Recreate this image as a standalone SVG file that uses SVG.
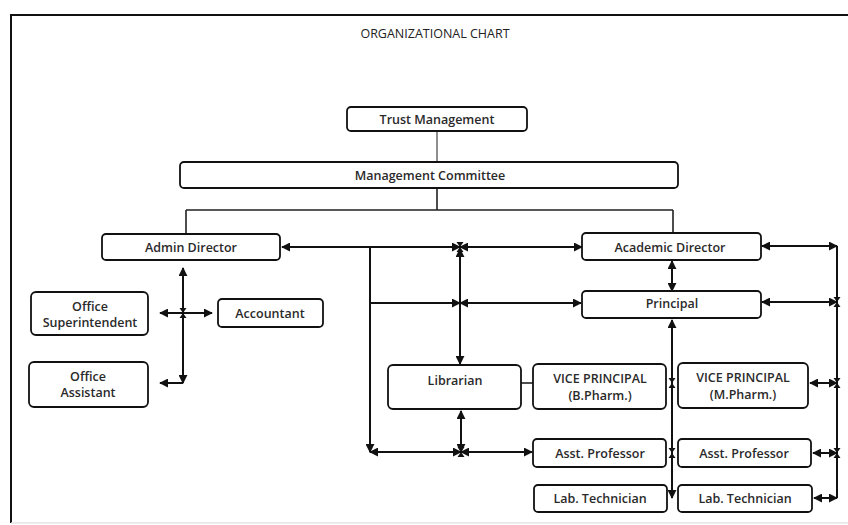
<svg xmlns="http://www.w3.org/2000/svg" width="848" height="525" viewBox="0 0 848 525">
<style>
.box{fill:#fff;stroke:#111;stroke-width:1.8}
.t{font-family:"Open Sans","Liberation Sans",sans-serif;font-size:12.5px;font-weight:600;fill:#2a2a2a;text-anchor:middle;dominant-baseline:central}
.c{fill:none;stroke:#111;stroke-width:2}
.thin{fill:none;stroke:#444;stroke-width:1.2}
.med{fill:none;stroke:#222;stroke-width:1.6}
.bt{fill:#111}
</style>
<defs>
<marker id="a" viewBox="0 0 10 10" refX="9" refY="5" markerWidth="4.5" markerHeight="4.5" orient="auto-start-reverse" markerUnits="strokeWidth">
<path d="M0,0 L10,5 L0,10 z" fill="#111"/>
</marker>
<g id="bow"><path d="M-3.5,-5 L3.5,-5 L0,0 z M-3.5,5 L3.5,5 L0,0 z"/></g>
</defs>
<rect width="848" height="525" fill="#fff"/>
<path d="M11,523 V15 H848" fill="none" stroke="#111" stroke-width="2"/>
<path d="M11,523 H848" fill="none" stroke="#e4e4e4" stroke-width="1.5"/>
<text x="435" y="33" class="t" style="font-weight:400;font-size:12.5px;fill:#222">ORGANIZATIONAL CHART</text>

<g id="connectors">
<path class="thin" d="M437,131 V162"/>
<path class="med" d="M437,188 V210 M186,210 H673 M186,210 V234 M673,210 V234"/>
<line class="c" x1="282" y1="247" x2="460" y2="247" marker-start="url(#a)" marker-end="url(#a)"/>
<line class="c" x1="460" y1="247" x2="582" y2="247" marker-start="url(#a)" marker-end="url(#a)"/>
<path class="c" d="M370,247 V452" marker-end="url(#a)"/>
<line class="c" x1="370" y1="452" x2="461" y2="452" marker-start="url(#a)" marker-end="url(#a)"/>
<line class="c" x1="461" y1="452" x2="532" y2="452" marker-start="url(#a)" marker-end="url(#a)"/>
<line class="c" x1="370" y1="303" x2="460" y2="303" marker-end="url(#a)"/>
<line class="c" x1="460" y1="303" x2="581" y2="303" marker-start="url(#a)" marker-end="url(#a)"/>
<line class="c" x1="460" y1="249" x2="460" y2="364" marker-start="url(#a)" marker-end="url(#a)"/>
<line class="c" x1="461" y1="411" x2="461" y2="452" marker-start="url(#a)" marker-end="url(#a)"/>
<line class="med" x1="521" y1="383" x2="533" y2="383"/>
<line class="c" x1="672" y1="261" x2="672" y2="291" marker-start="url(#a)" marker-end="url(#a)"/>
<line class="c" x1="672" y1="320" x2="672" y2="498" marker-start="url(#a)" marker-end="url(#a)"/>
<path class="c" d="M837,246 V498"/>
<line class="c" x1="762" y1="246" x2="837" y2="246" marker-start="url(#a)" marker-end="url(#a)"/>
<line class="c" x1="762" y1="302" x2="837" y2="302" marker-start="url(#a)" marker-end="url(#a)"/>
<line class="c" x1="810" y1="383" x2="837" y2="383" marker-start="url(#a)" marker-end="url(#a)"/>
<line class="c" x1="813" y1="453" x2="837" y2="453" marker-start="url(#a)" marker-end="url(#a)"/>
<line class="c" x1="814" y1="498" x2="837" y2="498" marker-start="url(#a)" marker-end="url(#a)"/>
<line class="c" x1="183" y1="268" x2="183" y2="383" marker-start="url(#a)" marker-end="url(#a)"/>
<line class="c" x1="160" y1="313" x2="212" y2="313" marker-start="url(#a)" marker-end="url(#a)"/>
<line class="c" x1="160" y1="383" x2="183" y2="383" marker-start="url(#a)"/>
<g class="bt">
<use href="#bow" x="183" y="313"/>
<use href="#bow" x="672" y="383"/>
<use href="#bow" x="672" y="453"/>
<use href="#bow" x="837" y="302"/>
<use href="#bow" x="837" y="383"/>
<use href="#bow" x="837" y="453"/>
<use href="#bow" x="461" y="452"/>
<use href="#bow" x="460" y="247"/>
</g>
</g>

<g id="trust"><rect class="box" x="347" y="107" width="180" height="24" rx="4"/><text class="t" x="437" y="119">Trust Management</text></g>
<g id="committee"><rect class="box" x="180" y="162" width="498" height="26" rx="4"/><text class="t" x="430" y="175">Management Committee</text></g>
<g id="admin"><rect class="box" x="102" y="234" width="178" height="26" rx="4"/><text class="t" x="191" y="247">Admin Director</text></g>
<g id="academic"><rect class="box" x="582" y="233" width="179" height="27" rx="4"/><text class="t" x="670" y="247">Academic Director</text></g>
<g id="principal"><rect class="box" x="582" y="291" width="179" height="27" rx="4"/><text class="t" x="672" y="303">Principal</text></g>
<g id="superintendent"><rect class="box" x="31" y="292" width="117" height="43" rx="5"/><text class="t" x="90" y="306">Office</text><text class="t" x="90" y="322">Superintendent</text></g>
<g id="accountant"><rect class="box" x="218" y="299" width="105" height="28" rx="4"/><text class="t" x="270" y="313">Accountant</text></g>
<g id="assistant"><rect class="box" x="29" y="362" width="119" height="45" rx="5"/><text class="t" x="88" y="376">Office</text><text class="t" x="88" y="392">Assistant</text></g>
<g id="librarian"><rect class="box" x="388" y="365" width="133" height="44" rx="5"/><text class="t" x="455" y="380">Librarian</text></g>
<g id="vp-b"><rect class="box" x="533" y="364" width="133" height="45" rx="5"/><text class="t" x="600" y="378">VICE PRINCIPAL</text><text class="t" x="600" y="395">(B.Pharm.)</text></g>
<g id="vp-m"><rect class="box" x="678" y="363" width="130" height="45" rx="5"/><text class="t" x="743" y="377">VICE PRINCIPAL</text><text class="t" x="743" y="394">(M.Pharm.)</text></g>
<g id="ap-b"><rect class="box" x="533" y="439" width="133" height="28" rx="4"/><text class="t" x="600" y="453">Asst. Professor</text></g>
<g id="ap-m"><rect class="box" x="678" y="439" width="133" height="28" rx="4"/><text class="t" x="744" y="453">Asst. Professor</text></g>
<g id="lt-b"><rect class="box" x="534" y="485" width="133" height="27" rx="4"/><text class="t" x="600" y="498">Lab. Technician</text></g>
<g id="lt-m"><rect class="box" x="678" y="485" width="134" height="27" rx="4"/><text class="t" x="745" y="498">Lab. Technician</text></g>
</svg>
